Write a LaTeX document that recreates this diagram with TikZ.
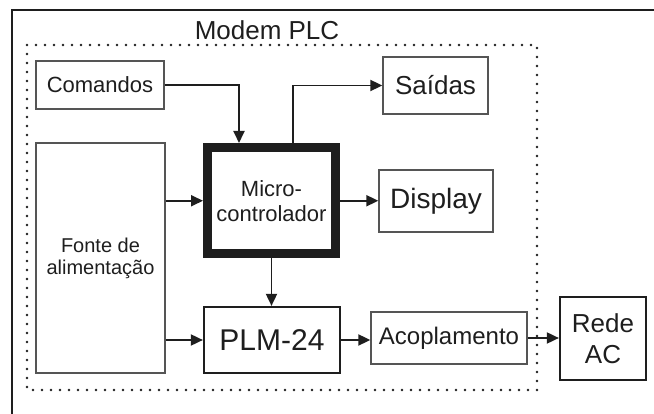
\documentclass[tikz,border=0pt]{standalone}
\usepackage{fontspec}
\setmainfont{Liberation Sans}
\usetikzlibrary{arrows.meta}
\definecolor{ink}{HTML}{1E1E1E}
\definecolor{thin}{HTML}{555555}
\tikzset{
  thinbox/.style={draw=thin, line width=1.3pt, text=ink, align=center, inner sep=0pt},
  boldbox/.style={draw=ink, line width=2.2pt, text=ink, align=center, inner sep=0pt},
  heavybox/.style={draw=ink, line width=9pt, text=ink, align=center, inner sep=0pt},
  arr/.style={draw=ink, line width=1.8pt, -{Triangle[length=12pt,width=11pt]}},
}
\begin{document}
\begin{tikzpicture}[x=1pt,y=-1pt]
\useasboundingbox (0,0) rectangle (654,414);
\begin{scope}
\clip (0,0) rectangle (654,414);
\draw[ink, line width=2pt] (12,430) -- (12,10) -- (670,10);
\end{scope}
% dotted module frame
\draw[ink, line width=2.6pt, line cap=round, dash pattern=on 0pt off 9pt] (27,45) rectangle (537,390);
\node[text=ink, font=\fontsize{26}{28}\selectfont, anchor=base] (title) at (267,40) {Modem PLC};

\node[thinbox, minimum width=128pt, minimum height=48pt, font=\fontsize{22}{24}\selectfont] (com) at (100,85) {Comandos};
\node[thinbox, minimum width=129pt, minimum height=230pt, font=\fontsize{20}{22}\selectfont] (fonte) at (100.5,258) {Fonte de\\alimentação};
\node[heavybox, minimum width=128pt, minimum height=106.5pt, font=\fontsize{22}{25}\selectfont] (micro) at (271.5,200.75) {Micro-\\controlador};
\node[thinbox, minimum width=105pt, minimum height=57pt, font=\fontsize{26}{28}\selectfont] (sai) at (435.5,85.5) {Saídas};
\node[thinbox, minimum width=114pt, minimum height=62pt, font=\fontsize{28}{30}\selectfont] (disp) at (436,201) {Display};
\node[boldbox, minimum width=136pt, minimum height=66pt, font=\fontsize{30}{32}\selectfont] (plm) at (272,340) {PLM-24};
\node[thinbox, minimum width=156pt, minimum height=52pt, font=\fontsize{24}{26}\selectfont] (acop) at (449,338) {Acoplamento};
\node[boldbox, minimum width=86pt, minimum height=83pt, font=\fontsize{26}{31}\selectfont] (rede) at (603,338.5) {Rede\\AC};

\coordinate (c1) at (239,0);
\coordinate (c2) at (293,0);
\draw[arr] (com.east) -| (c1 |- micro.north);
\draw[arr] (c2 |- micro.north) |- (sai.west);
\draw[arr] (fonte.east |- micro.west) -- (micro.west);
\draw[arr] (fonte.east |- plm.west) -- (plm.west);
\draw[arr] (micro.east) -- (disp.west |- micro.east);
\draw[arr] (micro.south) -- (micro.south |- plm.north);
\draw[arr] (plm.east) -- (acop.west |- plm.east);
\draw[arr] (acop.east) -- (rede.west |- acop.east);
\end{tikzpicture}
\end{document}
